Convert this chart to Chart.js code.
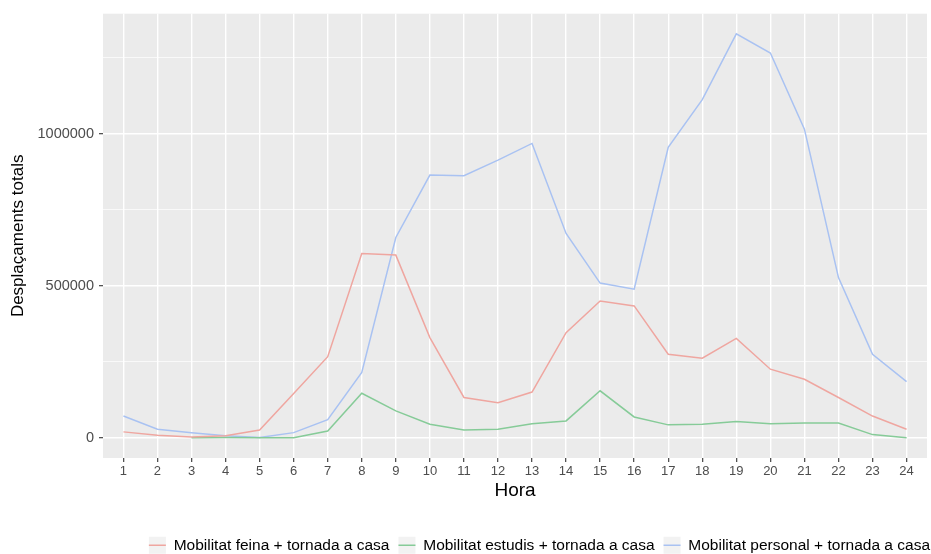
<!DOCTYPE html>
<html>
<head>
<meta charset="utf-8">
<script src="https://cdn.jsdelivr.net/npm/chart.js@4.4.1/dist/chart.umd.min.js"></script>
<style>
html,body{margin:0;padding:0;background:#ffffff;}
#wrap{width:931px;height:554px;position:relative;}
</style>
</head>
<body>
<div id="wrap"><canvas id="c"></canvas></div>
<script>
// ---- data ----
const hours = [1,2,3,4,5,6,7,8,9,10,11,12,13,14,15,16,17,18,19,20,21,22,23,24];
const seriesNames = [
  "Mobilitat feina + tornada a casa",
  "Mobilitat estudis + tornada a casa",
  "Mobilitat personal + tornada a casa"
];
const feina = [20000, 9000, 3500, 7500, 26000, 146000, 267000, 606000, 601000, 330000, 133000, 116000,
               151000, 346000, 450000, 434000, 275000, 262000, 327000, 226000, 193000, 133000, 72000, 28500];
const estudis = [null, null, 1000, 1500, 500, 1000, 23000, 147000, 89000, 45000, 26000, 28500,
                 47000, 56000, 155000, 69000, 43000, 45000, 54000, 47000, 49000, 49000, 11000, 1000];
const personal = [72000, 28500, 17500, 7600, 1500, 17500, 60000, 215000, 659000, 864000, 862000, 913000,
                  968000, 672000, 509000, 489000, 955000, 1112000, 1328000, 1265000, 1015000, 527000, 275000, 185000];
const yMajorTicks = [0, 500000, 1000000];
const yMinorTicks = [250000, 750000, 1250000];
const lineColors = ["#EFA6A0", "#86CB98", "#A9C2F2"];

// ggplot-like 5% expansion of the y range
const allVals = [].concat(feina, estudis, personal).filter(v => v !== null);
const dMin = Math.min.apply(null, allVals), dMax = Math.max.apply(null, allVals);
const yPad = (dMax - dMin) * 0.05;
const yMin = dMin - yPad, yMax = dMax + yPad;
// discrete x expansion (0.6 units)
const xMin = hours[0] - 0.6, xMax = hours[hours.length - 1] + 0.6;

const FONT = "'Liberation Sans', Arial, Helvetica, sans-serif";
Chart.defaults.font.family = FONT;

const panelBg = {
  id: 'panelBg',
  afterLayout(chart) {
    const lg = chart.legend;
    if (lg) { lg.left += 12; lg.right += 12; }
  },
  beforeDraw(chart) {
    const {ctx, chartArea: a} = chart;
    ctx.save();
    ctx.fillStyle = '#EBEBEB';
    ctx.fillRect(a.left, a.top, a.right - a.left, a.bottom - a.top);
    // legend key backgrounds
    const lg = chart.legend;
    if (lg && lg.legendHitBoxes) {
      const fs = lg.options.labels.font.size;
      ctx.fillStyle = '#F2F2F2';
      lg.legendHitBoxes.forEach(h => {
        ctx.fillRect(h.left, h.top + fs / 2 - 8.5, 17, 17);
      });
    }
    ctx.restore();
  }
};

const datasets = [feina, estudis, personal].map((arr, i) => ({
  label: seriesNames[i],
  data: hours.map((h, j) => ({x: h, y: arr[j]})),
  borderColor: lineColors[i],
  backgroundColor: lineColors[i],
  borderWidth: 1.5,
  pointRadius: 0,
  pointHoverRadius: 0,
  tension: 0,
  fill: false,
  spanGaps: false
}));

new Chart(document.getElementById('c'), {
  type: 'line',
  data: {datasets},
  plugins: [panelBg],
  options: {
    responsive: true,
    maintainAspectRatio: false,
    animation: false,
    layout: {padding: {top: 13, right: 4, left: 0, bottom: -9}},
    plugins: {
      tooltip: {enabled: false},
      legend: {
        position: 'bottom',
        align: 'end',
        labels: {
          usePointStyle: true,
          pointStyle: 'line',
          pointStyleWidth: 17,
          padding: 9,
          color: '#000000',
          font: {size: 15.5, family: FONT}
        }
      }
    },
    scales: {
      x: {
        type: 'linear',
        min: xMin,
        max: xMax,
        afterBuildTicks: s => { s.ticks = hours.map(v => ({value: v})); },
        afterFit: s => { s.height = 70.5; },
        ticks: {
          autoSkip: false,
          maxRotation: 0,
          padding: 2,
          color: '#4D4D4D',
          font: {size: 13},
          callback: v => String(v)
        },
        grid: {
          color: '#FFFFFF',
          lineWidth: 1.4,
          tickLength: 4,
          tickColor: '#333333',
          tickWidth: 1.1
        },
        border: {display: false},
        title: {
          display: true,
          text: 'Hora',
          color: '#000000',
          font: {size: 19},
          padding: {top: 0, bottom: 26}
        }
      },
      y: {
        type: 'linear',
        min: yMin,
        max: yMax,
        afterBuildTicks: s => {
          s.ticks = yMajorTicks.concat(yMinorTicks).sort((a, b) => a - b).map(v => ({value: v}));
        },
        afterFit: s => { s.width = 103; },
        ticks: {
          autoSkip: false,
          padding: 5,
          color: '#4D4D4D',
          font: {size: 14.5},
          callback: v => yMajorTicks.indexOf(v) >= 0 ? String(v) : ''
        },
        grid: {
          color: '#FFFFFF',
          lineWidth: c => (c.tick && yMajorTicks.indexOf(c.tick.value) >= 0) ? 1.4 : 0.7,
          tickLength: 4,
          tickColor: c => (c.tick && yMajorTicks.indexOf(c.tick.value) >= 0) ? '#333333' : 'rgba(0,0,0,0)',
          tickWidth: 1.1
        },
        border: {display: false},
        title: {
          display: true,
          text: 'Desplaçaments totals',
          color: '#000000',
          font: {size: 17},
          padding: {top: 8, bottom: 0}
        }
      }
    }
  }
});
</script>
</body>
</html>
